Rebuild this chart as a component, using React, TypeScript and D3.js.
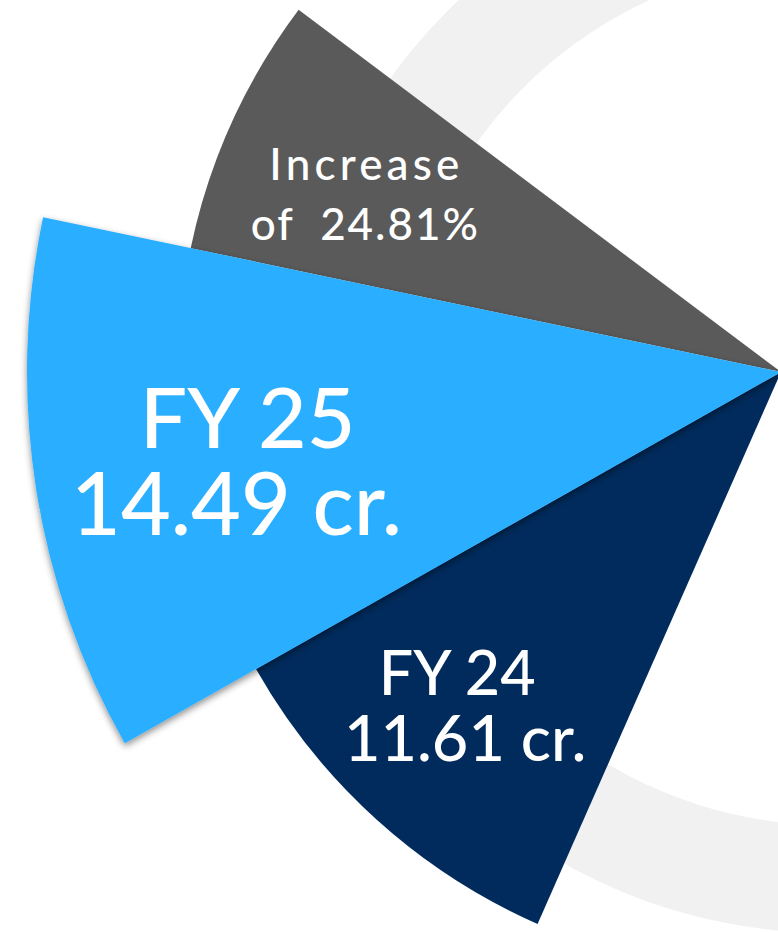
import React from "react";
import * as d3 from "d3";

// ---- data ----
const segmentKeys = ["increase", "fy25", "fy24"];
const headLines = ["Increase", "FY 25", "FY 24"];
const valueLines = ["of  24.81%", "14.49 cr.", "11.61 cr."];
const amounts = [24.81, 14.49, 11.61];
const startDeg = [-78.15, -119.5, -156.2];
const endDeg = [-53.1, -78.15, -119.5];
const reach = [0.8, 1, 0.8];

const W = 778;
const H = 933;

const fills: Record<string, string> = {
  increase: "#5a5a5a",
  fy25: "#2aaeff",
  fy24: "#002b5c",
};

// label layout: radius fraction, angle turn (deg), font sizes, baseline gap, cap height, nudges, optional line widths
const labelLayout: Record<string, any> = {
  increase: { frac: 0.7525, turn: -1.0, s1: 44, s2: 44, gap: 60, cap: 32, dx1: 0, dx2: 0, dy: 2, w1: 190, w2: 227 },
  fy25: { frac: 0.725, turn: -0.5, s1: 84, s2: 86, gap: 87, cap: 61, dx1: 6, dx2: -5, dy: 0 },
  fy24: { frac: 0.767, turn: 1.58, s1: 61, s2: 63, gap: 66, cap: 44, dx1: -4, dx2: 4, dy: 0 },
};

export default function App() {
  const cx = 781;
  const cy = 372;
  const rScale = d3.scaleLinear().domain([0, 1]).range([0, 754]);
  const rad = (d: number) => (d * Math.PI) / 180;

  const ringArc = d3
    .arc<any>()
    .innerRadius(432)
    .outerRadius(540)
    .startAngle(0)
    .endAngle(2 * Math.PI);

  const wedge = d3.arc<any>().innerRadius(0).cornerRadius(0);

  const items = segmentKeys.map((k, i) => ({
    key: k,
    i,
    head: headLines[i],
    val: valueLines[i],
    amount: amounts[i],
    start: rad(startDeg[i]),
    end: rad(endDeg[i]),
    outer: rScale(reach[i]),
  }));

  const order = [0, 2, 1];
  const font = "Lato, 'Noto Sans', sans-serif";

  return (
    <svg
      width={W}
      height={H}
      viewBox={`0 0 ${W} ${H}`}
      style={{ position: "absolute", left: 0, top: 0, background: "#ffffff" }}
    >
      <defs>
        <filter id="shadow" x="-20%" y="-20%" width="140%" height="140%">
          <feDropShadow dx="0" dy="3" stdDeviation="3.5" floodColor="#000" floodOpacity="0.45" />
        </filter>
      </defs>
      <rect width={W} height={H} fill="#ffffff" />
      <path d={ringArc({}) as string} transform={`translate(829,393)`} fill="#f1f1f1" />
      <g transform={`translate(${cx},${cy})`}>
        {order.map((idx) => {
          const it = items[idx];
          const d = wedge({
            innerRadius: 0,
            outerRadius: it.outer,
            startAngle: it.start,
            endAngle: it.end,
          } as any) as string;
          return (
            <path
              key={it.key}
              d={d}
              fill={fills[it.key]}
              filter={it.key === "fy25" ? "url(#shadow)" : undefined}
            />
          );
        })}
        {items.map((it) => {
          const L = labelLayout[it.key];
          const a = (it.start + it.end) / 2 + rad(L.turn);
          const r = it.outer * L.frac;
          const lx = r * Math.sin(a);
          const ly = -r * Math.cos(a) + L.dy;
          const b1 = ly - (L.gap - L.cap) / 2;
          const fit1 = L.w1 ? { textLength: L.w1, lengthAdjust: "spacing" } : {};
          const fit2 = L.w2 ? { textLength: L.w2, lengthAdjust: "spacing" } : {};
          return (
            <text
              key={it.key + "-label"}
              fill="#ffffff"
              fontFamily={font}
              fontWeight={500}
              textAnchor="middle"
              style={{ whiteSpace: "pre" }}
            >
              <tspan x={lx + L.dx1} y={b1} fontSize={L.s1} {...fit1}>
                {it.head}
              </tspan>
              <tspan x={lx + L.dx2} y={b1 + L.gap} fontSize={L.s2} {...fit2}>
                {it.val}
              </tspan>
            </text>
          );
        })}
      </g>
    </svg>
  );
}
